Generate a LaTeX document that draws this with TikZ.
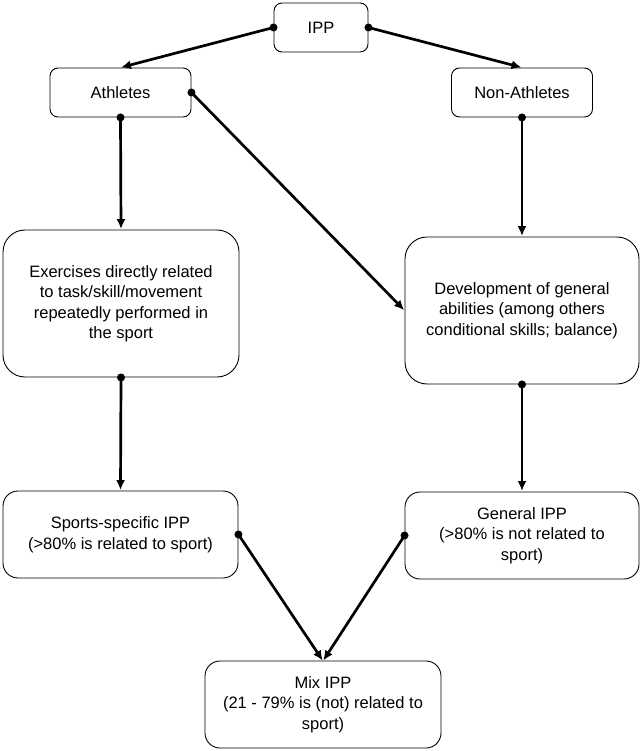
\documentclass[tikz,border=0pt]{standalone}
\usepackage{fontspec}
\setmainfont{Liberation Sans}
\usetikzlibrary{arrows.meta}
\begin{document}
\begin{tikzpicture}[x=1pt,y=-1pt,
  box/.style={draw, line width=0.9pt, align=center, inner sep=0pt,
    font=\fontsize{16.5}{20.5}\selectfont},
  smallbox/.style={box, rounded corners=8pt},
  bigbox/.style={box, rounded corners=22pt},
  midbox/.style={box, rounded corners=15pt},
  conn/.style={line width=2.7pt, -{Latex[length=10pt,width=9pt]}, shorten >=0.5pt}
]
\useasboundingbox (0,0) rectangle (641,751);
\node[smallbox, minimum width=94pt, minimum height=49pt] (ipp) at (321,27.5) {IPP};
\node[smallbox, minimum width=141pt, minimum height=49pt] (ath) at (120.5,92.5) {Athletes};
\node[smallbox, minimum width=141pt, minimum height=49pt] (non) at (522,92.5) {Non-Athletes};
\node[bigbox, minimum width=236pt, minimum height=147pt] (ex) at (121,303.5)
  {Exercises directly related\\to task/skill/movement\\repeatedly performed in\\the sport};
\node[bigbox, minimum width=234pt, minimum height=147pt] (dev) at (522,310.5)
  {Development of general\\abilities (among others\\conditional skills; balance)};
\node[midbox, minimum width=235pt, minimum height=87pt] (spec) at (120.5,534.5)
  {Sports-specific IPP\\(>80\% is related to sport)};
\node[midbox, minimum width=234pt, minimum height=87pt] (gen) at (522,535.5)
  {General IPP\\(>80\% is not related to\\sport)};
\node[midbox, minimum width=236pt, minimum height=87pt] (mix) at (323,704.5)
  {Mix IPP\\(21 - 79\% is (not) related to\\sport)};
\coordinate (mixtop) at (323,661);

\draw[conn] (ipp.west) -- (ath.north);
\draw[conn] (ipp.east) -- (non.north);
\draw[conn] (ath.south) -- (ex.north);
\draw[conn] (ath.east) -- (dev.west);
\draw[conn] (non.south) -- (dev.north);
\draw[conn] (ex.south) -- (spec.north);
\draw[conn] (dev.south) -- (gen.north);
\draw[conn] (spec.east) -- (mixtop);
\draw[conn] (gen.west) -- (mixtop);

\foreach \p in {ipp.west, ipp.east, ath.south, ath.east, non.south, ex.south, dev.south, spec.east, gen.west}
  \fill (\p) circle (4pt);
\end{tikzpicture}
\end{document}
